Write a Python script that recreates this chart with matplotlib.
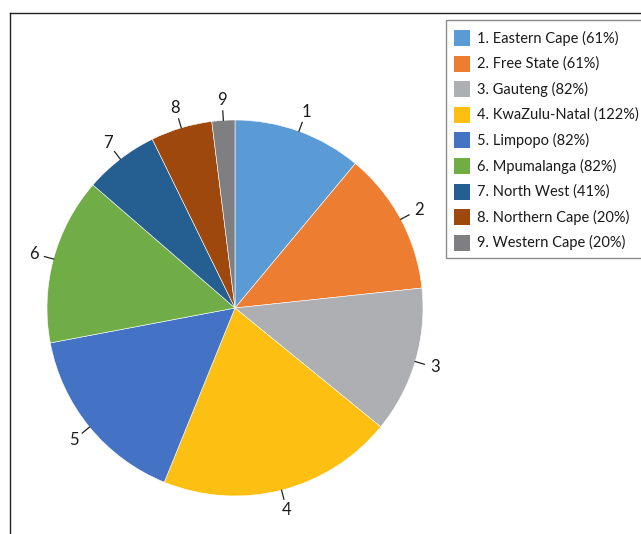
import numpy as np
import matplotlib
matplotlib.use('Agg')
import matplotlib.pyplot as plt
from matplotlib.patches import Rectangle
from matplotlib.lines import Line2D

plt.rcParams['font.family'] = ['Lato', 'DejaVu Sans']

# provinces, legend percentages and slice sizes (degrees of the pie)
provinces = ['Eastern Cape', 'Free State', 'Gauteng', 'KwaZulu-Natal', 'Limpopo',
             'Mpumalanga', 'North West', 'Northern Cape', 'Western Cape']
percents = [61, 61, 82, 122, 82, 82, 41, 20, 20]
shares = [39.8, 44.1, 45.3, 72.9, 57.2, 51.6, 23.0, 19.0, 7.1]
colors = ['#5B9BD5', '#ED7D31', '#ADAFB2', '#FDBF12', '#4472C4',
          '#70AD47', '#255E91', '#9E480E', '#7F7F82']

W, H = 641, 534
fig = plt.figure(figsize=(W / 100, H / 100), dpi=100)

# pie centred at (235, 308) px with radius 188 px
cx, cy, r = 235, 308, 188
ax = fig.add_axes([(cx - r) / W, (H - cy - r) / H, 2 * r / W, 2 * r / H])
wedges, _ = ax.pie(shares, colors=colors, startangle=90, counterclock=False,
                   radius=1, wedgeprops=dict(edgecolor='white', linewidth=0.4))
ax.set_xlim(-1, 1)
ax.set_ylim(-1, 1)
ax.set_aspect('auto')
ax.axis('off')

# numbered labels with short leader lines
for i, w in enumerate(wedges):
    ang = np.deg2rad((w.theta1 + w.theta2) / 2)
    c, s = np.cos(ang), np.sin(ang)
    ax.plot([c * 1.0, c * 1.05], [s * 1.0, s * 1.05], color='#222222', lw=0.9,
            clip_on=False)
    ax.text(c * 1.11, s * 1.11, str(i + 1), ha='center', va='center',
            fontsize=12, color='#1a1a1a', clip_on=False)

# outer frame (only top and left visible)
fig.add_artist(Line2D([10 / W, 1], [1 - 13 / H, 1 - 13 / H], color='#222222', lw=1))
fig.add_artist(Line2D([10 / W, 10 / W], [1 - 13 / H, 0], color='#222222', lw=1))

# legend box
lx0, ly0, ly1 = 446, 20, 258
fig.add_artist(Rectangle((lx0 / W, 1 - ly1 / H), (660 - lx0) / W, (ly1 - ly0) / H,
                         transform=fig.transFigure, fill=False,
                         edgecolor='#8C8C8C', lw=1, clip_on=False))
for i, (name, pct) in enumerate(zip(provinces, percents)):
    yc = 38 + i * 25.6
    fig.add_artist(Rectangle((454 / W, 1 - (yc + 8) / H), 16 / W, 16 / H,
                             transform=fig.transFigure, facecolor=colors[i],
                             edgecolor='none'))
    fig.text(477 / W, 1 - yc / H, f'{i + 1}. {name} ({pct}%)', ha='left',
             va='center', fontsize=10.5, color='#1a1a1a')

fig.savefig('out.png', dpi=100)
